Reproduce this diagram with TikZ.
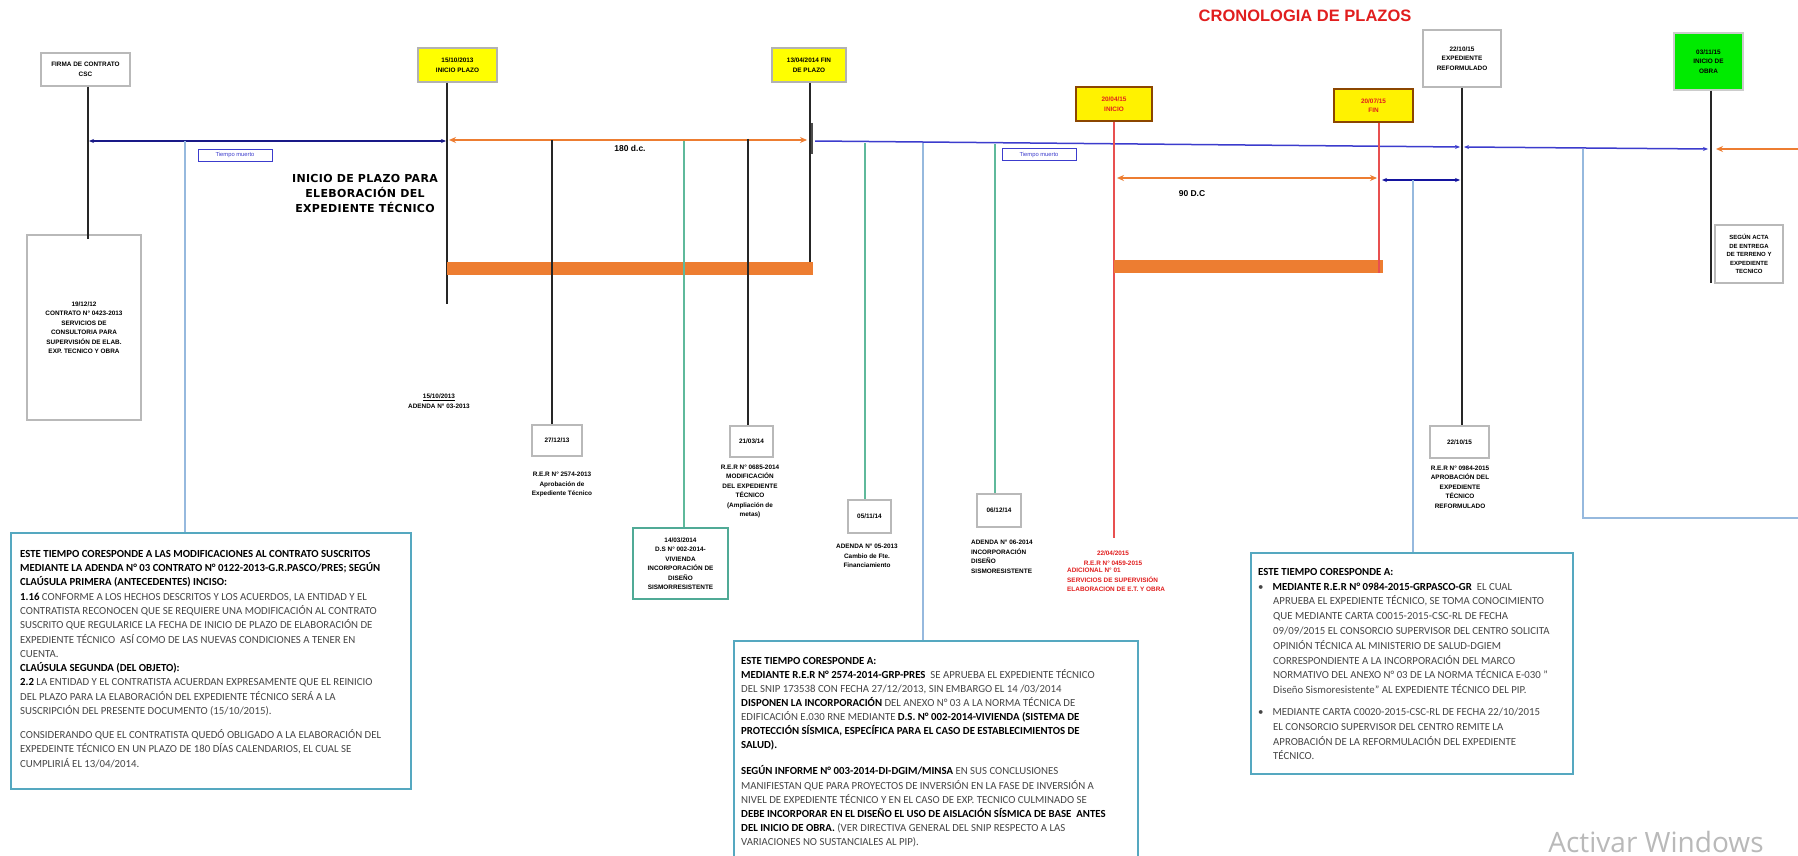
\documentclass[tikz,border=0pt]{standalone}
\usepackage{fontspec}
\setmainfont{Carlito}
\newfontfamily\arial{Liberation Sans}
\newfontfamily\heavy[LetterSpace=3]{DejaVu Sans}
\newfontfamily\wmfont{Open Sans}
\usetikzlibrary{arrows.meta}
\definecolor{navy}{RGB}{25,25,135}
\definecolor{midblue}{RGB}{60,60,205}
\definecolor{lblue}{RGB}{150,185,222}
\definecolor{tealg}{RGB}{95,185,155}
\definecolor{tealbox}{RGB}{80,170,150}
\definecolor{boxteal}{RGB}{85,168,192}
\definecolor{orng}{RGB}{237,125,49}
\definecolor{redl}{RGB}{232,80,80}
\definecolor{redt}{RGB}{225,30,30}
\definecolor{yel}{RGB}{255,255,0}
\definecolor{grn}{RGB}{0,235,0}
\definecolor{txtgray}{RGB}{70,70,70}
\tikzset{
  sm/.style={font=\arial\bfseries\fontsize{6.4}{9.5}\selectfont, align=center, inner sep=0pt},
  datebox/.style={draw=gray!55, line width=1.2pt, fill=white, sm},
  yelbox/.style={draw=gray!60, line width=1.2pt, fill=yel, sm},
  redbox/.style={draw=orange!55!black, line width=1.3pt, fill=yel!90!orange, sm, text=redt},
  tmbox/.style={draw=midblue, line width=1pt, fill=white, font=\arial\fontsize{5.8}{6}\selectfont, inner sep=0pt, text=midblue},
  bigbox/.style={draw=boxteal, line width=1.6pt, fill=white},
  bigtxt/.style={font=\fontsize{10.8}{14.3}\selectfont, align=left, inner sep=0pt, anchor=north west, text=txtgray},
  blk/.style={draw=black!85, line width=1.4pt},
  tln/.style={draw=tealg, line width=1.4pt},
  lbl/.style={draw=lblue, line width=1.4pt},
  rln/.style={draw=redl, line width=1.4pt},
  tipN/.tip={Stealth[length=5pt,width=4pt]},
  tipO/.tip={Stealth[length=7pt,width=6pt]},
}
\begin{document}
\begin{tikzpicture}[x=1pt,y=-1pt]
\useasboundingbox[fill=white] (0,0) rectangle (1798,856);

% title
\node[font=\arial\bfseries\fontsize{16.5}{17}\selectfont, text=redt, inner sep=0pt] (title) at (1305,16) {CRONOLOGIA DE PLAZOS};

% ---------- left part
\node[datebox, minimum width=89, minimum height=33] (firma) at (85.5,69.5) {FIRMA DE CONTRATO\\CSC};
\node[datebox, minimum width=114, minimum height=185] (contrato) at (84,327.5) {19/12/12\\CONTRATO N° 0423-2013\\SERVICIOS DE\\CONSULTORIA PARA\\SUPERVISIÓN DE ELAB.\\EXP. TECNICO Y OBRA};
\draw[blk] (firma.south -| 88,0) -- ([yshift=-5pt]contrato.north -| 88,0);

\coordinate (n0) at (89,141);
\coordinate (n1) at (446,141);
\draw[navy, line width=2.6pt, {tipN}-{tipN}] (n0) -- (n1);
\node[tmbox, minimum width=74, minimum height=12] (tm1) at (235,155) {Tiempo muerto};

\node[font=\heavy\bfseries\fontsize{11}{15}\selectfont, align=center, inner sep=0pt] (heading) at (365,193) {INICIO DE PLAZO PARA\\ELEBORACIÓN DEL\\EXPEDIENTE TÉCNICO};

% inicio plazo
\node[yelbox, minimum width=79, minimum height=34] (inicio) at (457.5,65) {15/10/2013\\INICIO PLAZO};
\coordinate (ib) at (447,304);
\draw[blk] (inicio.south -| ib) -- (ib);

% fin plazo
\node[yelbox, minimum width=74, minimum height=34] (fin) at (809,65) {13/04/2014 FIN\\DE PLAZO};
\coordinate (fb) at (810,262);
\draw[blk] (fin.south -| fb) -- (fb);
\coordinate (mk0) at (812,123);
\coordinate (mk1) at (812,154);
\draw[draw=black!70, line width=2pt] (mk0) -- (mk1);

% 180 dc arrow
\coordinate (o0) at (449,140);
\coordinate (o1) at (807,140);
\draw[orng, line width=2.2pt, {tipO}-{tipO}] (o0) -- (o1);
\node[font=\arial\bfseries\fontsize{8.5}{9}\selectfont, inner sep=0pt] (d180) at (630,148) {180 d.c.};
\fill[orng] (447,262) rectangle (813,275);

\node[sm] (adenda3) at (439,401) {\underline{15/10/2013}\\ADENDA N° 03-2013};

% 27/12/13
\node[datebox, minimum width=50, minimum height=31] (d271213) at (557,440.5) {27/12/13};
\coordinate (a1) at (552,140);
\draw[blk] (a1) -- (d271213.north -| a1);
\node[sm] (t271213) at (562,484.5) {R.E.R N° 2574-2013\\Aprobación de\\Expediente Técnico};

% 21/03/14
\node[datebox, minimum width=43, minimum height=31] (d210314) at (751.5,441.5) {21/03/14};
\coordinate (a2) at (748,139);
\draw[blk] (a2) -- (d210314.north -| a2);
\node[sm] (t210314) at (750,491.5) {R.E.R N° 0685-2014\\MODIFICACIÓN\\DEL EXPEDIENTE\\TÉCNICO\\(Ampliación de\\metas)};

% 14/03/2014 teal
\node[draw=tealbox, line width=1.6pt, fill=white, minimum width=95, minimum height=71, sm] (ds) at (680.5,563.5) {14/03/2014\\D.S N° 002-2014-\\VIVIENDA\\INCORPORACIÓN DE\\DISEÑO\\SISMORRESISTENTE};
\coordinate (a3) at (684,141);
\draw[tln] (a3) -- (ds.north -| a3);

% blue line 2
\coordinate (b0) at (815,141);
\coordinate (b1) at (1460,147);
\draw[midblue, line width=1.5pt, -{tipN}] (b0) -- (b1);
\node[tmbox, minimum width=74, minimum height=12] (tm2) at (1039,154.5) {Tiempo muerto};

% 05/11/14
\node[datebox, minimum width=43, minimum height=33] (d051114) at (869.5,516.5) {05/11/14};
\coordinate (a4) at (865,143);
\draw[tln] (a4) -- (d051114.north -| a4);
\node[sm] (t051114) at (867,556) {ADENDA N° 05-2013\\Cambio de Fte.\\Financiamiento};

% light blue 923
\coordinate (a5) at (923,143);

% 06/12/14
\node[datebox, minimum width=44, minimum height=33] (d061214) at (999,510.5) {06/12/14};
\coordinate (a6) at (995,144);
\draw[tln] (a6) -- (d061214.north -| a6);
\node[sm, align=left, anchor=north west] (t061214) at (971,540) {ADENDA N° 06-2014\\INCORPORACIÓN\\DISEÑO\\SISMORESISTENTE};

% red inicio
\node[redbox, minimum width=76, minimum height=34] (rini) at (1114,104) {20/04/15\\INICIO};
\coordinate (r0) at (1114,538);
\draw[rln] (rini.south) -- (r0);
\node[sm, text=redt] (rt1) at (1113,558) {22/04/2015\\R.E.R N° 0459-2015};
\node[sm, text=redt, align=left, anchor=north west] (rt2) at (1067,568) {ADICIONAL N° 01\\SERVICIOS DE SUPERVISIÓN\\ELABORACION DE E.T. Y OBRA};

% 90 dc
\coordinate (p0) at (1117,178);
\coordinate (p1) at (1377,178);
\draw[orng, line width=2.2pt, {tipO}-{tipO}] (p0) -- (p1);
\node[font=\arial\bfseries\fontsize{8.5}{9}\selectfont, inner sep=0pt] (d90) at (1192,194) {90 D.C};
\fill[orng] (1114,260) rectangle (1383,273);

% red fin
\node[redbox, minimum width=79, minimum height=33] (rfin) at (1373.5,105.5) {20/07/15\\FIN};
\coordinate (rf) at (1379,273);
\draw[rln] (rfin.south -| rf) -- (rf);

% reformulado
\node[datebox, minimum width=78, minimum height=57] (reform) at (1462,58.5) {22/10/15\\EXPEDIENTE\\REFORMULADO};
\node[datebox, minimum width=59, minimum height=32] (d221015) at (1459.5,442) {22/10/15};
\coordinate (a7) at (1462,300);
\draw[blk] (reform.south -| a7) -- (d221015.north -| a7);
\node[sm] (t221015) at (1460,487) {R.E.R N° 0984-2015\\APROBACIÓN DEL\\EXPEDIENTE\\TÉCNICO\\REFORMULADO};

\coordinate (q0) at (1382,180);
\coordinate (q1) at (1460,180);
\draw[navy!80!blue, line width=1.5pt, {tipN}-{tipN}] (q0) -- (q1);
\coordinate (a8) at (1413,180);

% inicio obra
\coordinate (c0) at (1464,147);
\coordinate (c1) at (1708,149);
\draw[midblue, line width=1.5pt, {tipN}-{tipN}] (c0) -- (c1);
\node[draw=gray!40, line width=1.2pt, fill=grn, minimum width=69, minimum height=57, sm] (obra) at (1708.5,61.5) {03/11/15\\INICIO DE\\OBRA};
\coordinate (ob) at (1711,283);
\draw[blk] (obra.south -| ob) -- (ob);
\node[datebox, minimum width=68, minimum height=58, font=\arial\bfseries\fontsize{6}{8.5}\selectfont] (segun) at (1749,254) {SEGÚN ACTA\\DE ENTREGA\\DE TERRENO Y\\EXPEDIENTE\\TECNICO};
\coordinate (e0) at (1798,149);
\coordinate (e1) at (1716,149);
\draw[orng, line width=2.2pt, -{tipO}] (e0) -- (e1);

\coordinate (g0) at (1583,149);
\coordinate (g1) at (1583,518);
\coordinate (g2) at (1798,518);
\draw[lbl] (g0) -- (g1) -- (g2);

% ---------- big boxes
\node[bigbox, minimum width=400, minimum height=256, anchor=north west] (boxL) at (10,532) {};
\node[bigtxt] (txtL) at (20,550) {%
\textbf{\color{black}ESTE TIEMPO CORESPONDE A LAS MODIFICACIONES AL CONTRATO SUSCRITOS}\\
\textbf{\color{black}MEDIANTE LA ADENDA N° 03 CONTRATO N° 0122-2013-G.R.PASCO/PRES; SEGÚN}\\
\textbf{\color{black}CLAÚSULA PRIMERA (ANTECEDENTES) INCISO:}\\
\textbf{\color{black}1.16} CONFORME A LOS HECHOS DESCRITOS Y LOS ACUERDOS, LA ENTIDAD Y EL\\
CONTRATISTA RECONOCEN QUE SE REQUIERE UNA MODIFICACIÓN AL CONTRATO\\
SUSCRITO QUE REGULARICE LA FECHA DE INICIO DE PLAZO DE ELABORACIÓN DE\\
EXPEDIENTE TÉCNICO \ ASÍ COMO DE LAS NUEVAS CONDICIONES A TENER EN\\
CUENTA.\\
\textbf{\color{black}CLAÚSULA SEGUNDA (DEL OBJETO):}\\
\textbf{\color{black}2.2} LA ENTIDAD Y EL CONTRATISTA ACUERDAN EXPRESAMENTE QUE EL REINICIO\\
DEL PLAZO PARA LA ELABORACIÓN DEL EXPEDIENTE TÉCNICO SERÁ A LA\\
SUSCRIPCIÓN DEL PRESENTE DOCUMENTO (15/10/2015).\\[9.7pt]
CONSIDERANDO QUE EL CONTRATISTA QUEDÓ OBLIGADO A LA ELABORACIÓN DEL\\
EXPEDEINTE TÉCNICO EN UN PLAZO DE 180 DÍAS CALENDARIOS, EL CUAL SE\\
CUMPLIRIÁ EL 13/04/2014.};
\coordinate (l0) at (185,141);
\draw[lbl] (l0) -- (boxL.north -| l0);

\node[bigbox, minimum width=404, minimum height=240, anchor=north west] (boxM) at (733,640) {};
\node[bigtxt, font=\fontsize{10.8}{14.1}\selectfont] (txtM) at (741,657) {%
\textbf{\color{black}ESTE TIEMPO CORESPONDE A:}\\
\textbf{\color{black}MEDIANTE R.E.R N° 2574-2014-GRP-PRES} \ SE APRUEBA EL EXPEDIENTE TÉCNICO\\
DEL SNIP 173538 CON FECHA 27/12/2013, SIN EMBARGO EL 14 /03/2014\\
\textbf{\color{black}DISPONEN LA INCORPORACIÓN} DEL ANEXO N° 03 A LA NORMA TÉCNICA DE\\
EDIFICACIÓN E.030 RNE MEDIANTE \textbf{\color{black}D.S. N° 002-2014-VIVIENDA (SISTEMA DE}\\
\textbf{\color{black}PROTECCIÓN SÍSMICA, ESPECÍFICA PARA EL CASO DE ESTABLECIMIENTOS DE}\\
\textbf{\color{black}SALUD).}\\[12pt]
\textbf{\color{black}SEGÚN INFORME N° 003-2014-DI-DGIM/MINSA} EN SUS CONCLUSIONES\\
MANIFIESTAN QUE PARA PROYECTOS DE INVERSIÓN EN LA FASE DE INVERSIÓN A\\
NIVEL DE EXPEDIENTE TÉCNICO Y EN EL CASO DE EXP. TECNICO CULMINADO SE\\
\textbf{\color{black}DEBE INCORPORAR EN EL DISEÑO EL USO DE AISLACIÓN SÍSMICA DE BASE \ ANTES}\\
\textbf{\color{black}DEL INICIO DE OBRA.} (VER DIRECTIVA GENERAL DEL SNIP RESPECTO A LAS\\
VARIACIONES NO SUSTANCIALES AL PIP).};
\draw[lbl] (a5) -- (boxM.north -| a5);

\node[bigbox, minimum width=322, minimum height=221, anchor=north west] (boxR) at (1250,552) {};
\node[bigtxt, font=\fontsize{10.8}{14.8}\selectfont] (txtR) at (1258,568) {%
\textbf{\color{black}ESTE TIEMPO CORESPONDE A:}\\
\textbullet\hspace{9pt}\textbf{\color{black}MEDIANTE R.E.R N° 0984-2015-GRPASCO-GR} \ EL CUAL\\
\hspace{15pt}APRUEBA EL EXPEDIENTE TÉCNICO, SE TOMA CONOCIMIENTO\\
\hspace{15pt}QUE MEDIANTE CARTA C0015-2015-CSC-RL DE FECHA\\
\hspace{15pt}09/09/2015 EL CONSORCIO SUPERVISOR DEL CENTRO SOLICITA\\
\hspace{15pt}OPINIÓN TÉCNICA AL MINISTERIO DE SALUD-DGIEM\\
\hspace{15pt}CORRESPONDIENTE A LA INCORPORACIÓN DEL MARCO\\
\hspace{15pt}NORMATIVO DEL ANEXO N° 03 DE LA NORMA TÉCNICA E-030 "\\
\hspace{15pt}Diseño Sismoresistente" AL EXPEDIENTE TÉCNICO DEL PIP.\\[7pt]
\textbullet\hspace{9pt}MEDIANTE CARTA C0020-2015-CSC-RL DE FECHA 22/10/2015\\
\hspace{15pt}EL CONSORCIO SUPERVISOR DEL CENTRO REMITE LA\\
\hspace{15pt}APROBACIÓN DE LA REFORMULACIÓN DEL EXPEDIENTE\\
\hspace{15pt}TÉCNICO.};
\draw[lbl] (a8) -- (boxR.north -| a8);

% watermark
\node[font=\wmfont\fontsize{28}{30}\selectfont, text=gray!55, inner sep=0pt] (wm) at (1656,842) {Activar Windows};
\end{tikzpicture}
\end{document}
